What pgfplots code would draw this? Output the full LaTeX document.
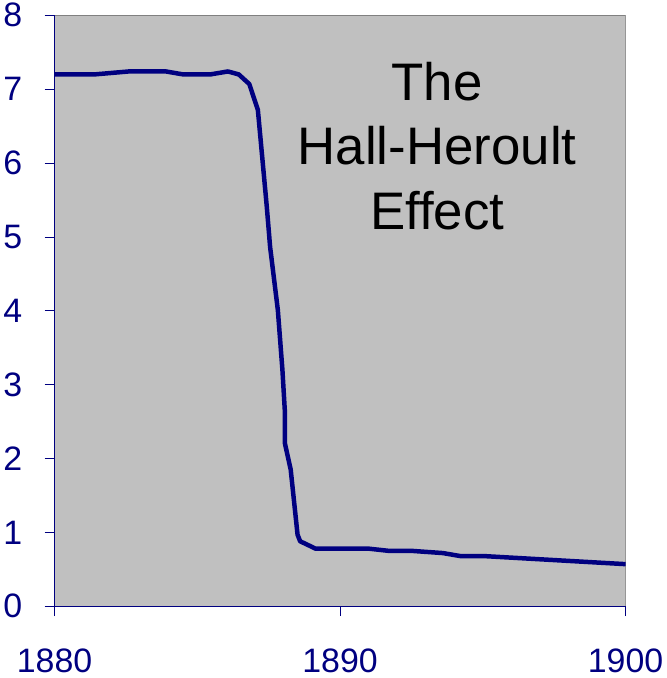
\documentclass[border=0pt]{standalone}
\usepackage{pgfplots}
\pgfplotsset{compat=1.18}
\usepackage{fontspec}
\setmainfont{Liberation Sans}
\definecolor{navy}{HTML}{000080}
\definecolor{plotgray}{HTML}{C0C0C0}
\definecolor{framegray}{HTML}{808080}
\begin{document}
\begin{tikzpicture}
\begin{axis}[
  scale only axis, width=573pt, height=593pt,
  xmin=1880, xmax=1900, ymin=0, ymax=8,
  xtick={1880,1890,1900}, ytick={0,1,2,3,4,5,6,7,8},
  axis background/.style={fill=plotgray},
  axis x line*=bottom, axis y line*=left,
  axis line style={navy, line width=0.8pt, -},
  tick style={navy, line width=0.8pt},
  tick align=outside,
  major tick length=10pt,
  ticklabel style={font=\fontsize{34}{36}\selectfont, text=navy},
  /pgf/number format/assume math mode=true,
  /pgf/number format/1000 sep={},
  xticklabel style={yshift=-29pt},
  yticklabel style={xshift=-19pt},
]
\draw[framegray, line width=0.8pt] (rel axis cs:0,1) -- (rel axis cs:1,1) -- (rel axis cs:1,0);
\addplot[navy, line width=4.5pt, line join=round] coordinates {
(1880,7.2) (1881.4,7.2) (1882.6,7.24) (1883.9,7.24) (1884.5,7.2) (1885.46,7.2)
(1886.07,7.24) (1886.45,7.2) (1886.82,7.07) (1887.12,6.72) (1887.43,5.42)
(1887.55,4.86) (1887.82,4.01) (1887.98,3.2) (1888.07,2.61) (1888.07,2.2)
(1888.27,1.85) (1888.51,0.97) (1888.6,0.88) (1889.14,0.78) (1891.0,0.78)
(1891.7,0.75) (1892.5,0.75) (1893.6,0.72) (1894.2,0.68) (1895.0,0.68) (1900,0.57)
};
\node[align=center, font=\fontsize{53}{65}\selectfont, text=black] at (axis cs:1893.4,6.23) {The\\Hall-Heroult\\Effect};
\end{axis}
\path (current axis.south west) -- ++(0,-72pt);
\end{tikzpicture}
\end{document}
